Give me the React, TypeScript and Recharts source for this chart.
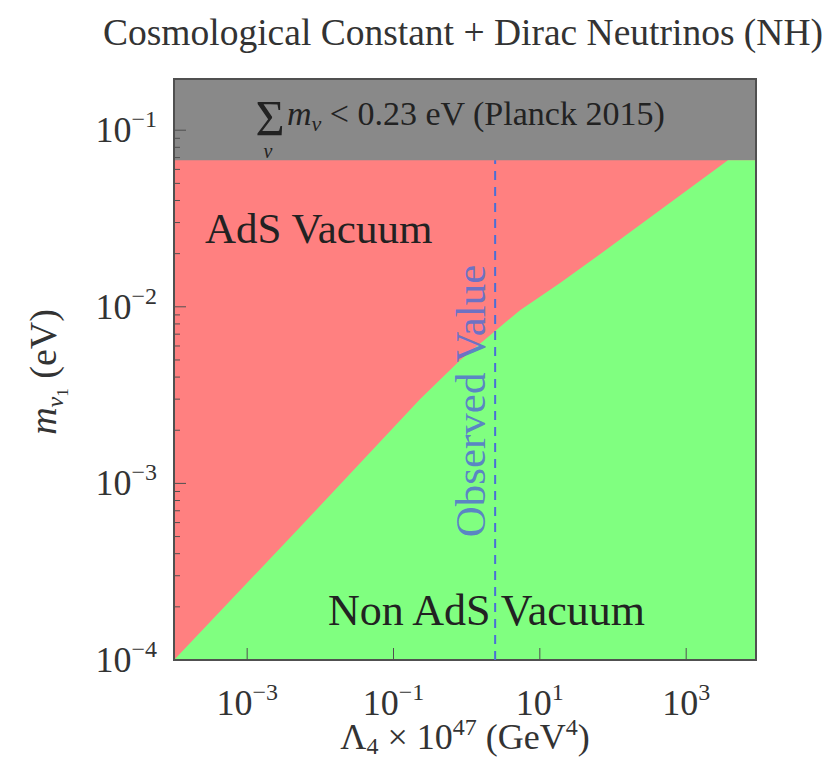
import React from 'react';
import { ComposedChart, Area, XAxis, YAxis, ReferenceLine, ReferenceArea } from 'recharts';

// Lambda_4 x 10^47 (GeV^4) along the AdS / non-AdS boundary
const lambdaValues = [1e-4, 0.0053, 0.23, 0.813, 2.09, 5.37, 18.9, 66.4, 3720, 9000];
// lightest neutrino mass (eV) on the boundary
const boundaryMass = [1e-4, 0.000566, 0.003, 0.00499, 0.0069, 0.00957, 0.01362, 0.01987, 0.0676, 0.0676];

const planckLimit = 0.0676; // sum m_nu < 0.23 eV
const massTop = 0.195;
const lambdaMin = 1e-4;
const lambdaMax = 9000;
const observedLambda = 2.45;

const xTicks = [1e-3, 1e-1, 1e1, 1e3];
const yMajorTicks = [1e-4, 1e-3, 1e-2, 1e-1];
const minorSteps = [2, 3, 4, 5, 6, 7, 8, 9];
const yTicks = yMajorTicks
  .flatMap((d) => [d, ...minorSteps.map((m) => m * d)])
  .filter((v) => v <= massTop);

const data = lambdaValues.map((lambda, i) => ({
  lambda,
  boundary: boundaryMass[i],
  planck: planckLimit,
  top: massTop,
}));

const SERIF = { fontFamily: "'Liberation Serif', 'DejaVu Serif', serif" };
const FRAME = '#505050';

const isMajor = (v: number) => Math.abs(Math.log10(v) - Math.round(Math.log10(v))) < 1e-6;
const expo = (v: number) => {
  const e = Math.round(Math.log10(v));
  return e < 0 ? `\u2212${-e}` : `${e}`;
};

const LeftTick = (props: any) => {
  const { x, y, payload } = props;
  const major = isMajor(payload.value);
  const axisX = x + 17;
  return (
    <g>
      <line x1={axisX} x2={axisX + (major ? 12 : 6)} y1={y} y2={y} stroke={FRAME} strokeWidth={1} />
      {major && (
        <text x={x} y={y + 12} textAnchor="end" style={SERIF} fontSize={36} fill="#333">
          10<tspan dy={-15} fontSize={24}>{expo(payload.value)}</tspan>
        </text>
      )}
    </g>
  );
};

const RightTick = (props: any) => {
  const { x, y, payload } = props;
  const major = isMajor(payload.value);
  return <line x1={x} x2={x - (major ? 12 : 6)} y1={y} y2={y} stroke={FRAME} strokeWidth={1} />;
};

const BottomTick = (props: any) => {
  const { x, y, payload } = props;
  return (
    <g>
      <line x1={x} x2={x} y1={y} y2={y - 12} stroke={FRAME} strokeWidth={1} />
      <text x={x} y={y + 55} textAnchor="middle" style={SERIF} fontSize={36} fill="#333">
        10<tspan dy={-15} fontSize={24}>{expo(payload.value)}</tspan>
      </text>
    </g>
  );
};

const TopTick = (props: any) => {
  const { x, y } = props;
  return <line x1={x} x2={x} y1={y} y2={y + 12} stroke={FRAME} strokeWidth={1} />;
};

// texts that sit inside the plot, placed relative to the plot box
const PlotTexts = (props: any) => {
  const vb = props.viewBox || { x: 166, y: 71 };
  const px = vb.x;
  const py = vb.y;
  return (
    <g style={SERIF}>
      <text x={px + 96} y={py + 56} textAnchor="middle" fontSize={50} fill="#222">Σ</text>
      <text x={px + 94} y={py + 79} textAnchor="middle" fontSize={20} fontStyle="italic" fill="#222">ν</text>
      <text x={px + 113} y={py + 46} fontSize={34} fill="#222">
        <tspan fontStyle="italic">m</tspan>
        <tspan fontStyle="italic" fontSize={22} dy={6}>ν</tspan>
        <tspan dy={-6}> &lt; 0.23 eV (Planck 2015)</tspan>
      </text>
      <text x={px + 31} y={py + 164} fontSize={43} fill="#222">AdS Vacuum</text>
      <text x={px + 154} y={py + 546} fontSize={44} fill="#222">Non AdS Vacuum</text>
      <text
        x={0}
        y={0}
        transform={`translate(${px + 311} ${py + 322}) rotate(-90)`}
        textAnchor="middle"
        fontSize={43}
        fill="#5470d0"
        fillOpacity={0.85}
      >
        Observed Value
      </text>
    </g>
  );
};

export default function App() {
  return (
    <div style={{ width: 818, height: 753 }}>
      <ComposedChart
        width={818}
        height={753}
        data={data}
        margin={{ top: 71, right: 70, bottom: 41, left: 0 }}
      >
        <Area
          type="linear"
          dataKey="top"
          stroke="none"
          fill="#898989"
          fillOpacity={1}
          isAnimationActive={false}
        />
        <Area
          type="linear"
          dataKey="planck"
          stroke="none"
          fill="#ff8080"
          fillOpacity={1}
          isAnimationActive={false}
        />
        <Area
          type="linear"
          dataKey="boundary"
          stroke="none"
          fill="#80ff80"
          fillOpacity={1}
          isAnimationActive={false}
        />
        <ReferenceLine
          segment={[
            { x: observedLambda, y: lambdaMin },
            { x: observedLambda, y: planckLimit },
          ]}
          stroke="#4a6fd6"
          strokeWidth={2}
          strokeDasharray="9 7"
        />
        <ReferenceArea
          x1={lambdaMin}
          x2={lambdaMax}
          y1={1e-4}
          y2={massTop}
          fill="none"
          stroke={FRAME}
          strokeWidth={2}
          label={(p: any) => <PlotTexts viewBox={p.viewBox} />}
        />
        <XAxis
          dataKey="lambda"
          type="number"
          scale="log"
          domain={[lambdaMin, lambdaMax]}
          allowDataOverflow
          ticks={xTicks}
          interval={0}
          tickSize={0}
          tickMargin={0}
          axisLine={false}
          tickLine={false}
          height={60}
          tick={<BottomTick />}
        />
        <XAxis
          xAxisId="top"
          orientation="top"
          type="number"
          scale="log"
          domain={[lambdaMin, lambdaMax]}
          allowDataOverflow
          ticks={xTicks}
          interval={0}
          tickSize={0}
          tickMargin={0}
          axisLine={false}
          tickLine={false}
          height={0}
          tick={<TopTick />}
        />
        <YAxis
          type="number"
          scale="log"
          domain={[1e-4, massTop]}
          allowDataOverflow
          ticks={yTicks}
          interval={0}
          tickSize={0}
          tickMargin={17}
          axisLine={false}
          tickLine={false}
          width={166}
          tick={<LeftTick />}
        />
        <YAxis
          yAxisId="right"
          orientation="right"
          type="number"
          scale="log"
          domain={[1e-4, massTop]}
          allowDataOverflow
          ticks={yTicks}
          interval={0}
          tickSize={0}
          tickMargin={0}
          axisLine={false}
          tickLine={false}
          width={0}
          tick={<RightTick />}
        />
        <g style={SERIF}>
          <text x={455} y={37} textAnchor="middle" fontSize={37.5} fill="#333">
            Cosmological Constant + Dirac Neutrinos (NH)
          </text>
          <text x={457} y={741} textAnchor="middle" fontSize={36} fill="#333">
            Λ<tspan fontSize={24} dy={5}>4</tspan>
            <tspan dy={-5}> × 10</tspan>
            <tspan fontSize={24} dy={-14}>47</tspan>
            <tspan dy={14}> (GeV</tspan>
            <tspan fontSize={24} dy={-14}>4</tspan>
            <tspan dy={14}>)</tspan>
          </text>
          <text
            x={0}
            y={0}
            transform="translate(48 364) rotate(-90)"
            textAnchor="middle"
            fontSize={38}
            fill="#333"
          >
            <tspan fontStyle="italic">m</tspan>
            <tspan fontStyle="italic" fontSize={24} dy={7}>ν</tspan>
            <tspan fontSize={17} dy={5}>1</tspan>
            <tspan dy={-12}> (eV)</tspan>
          </text>
        </g>
      </ComposedChart>
    </div>
  );
}
